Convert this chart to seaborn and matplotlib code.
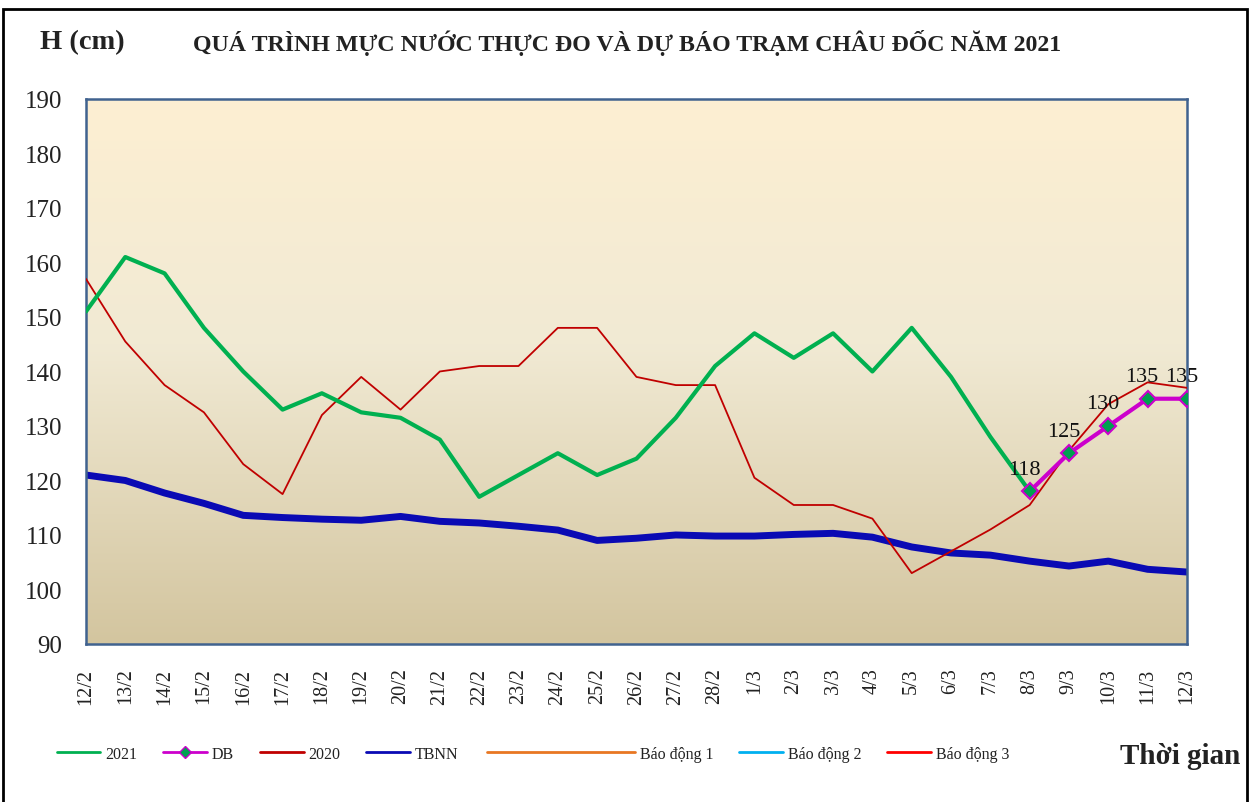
import numpy as np
import pandas as pd
import matplotlib.pyplot as plt
import seaborn as sns
from matplotlib.colors import LinearSegmentedColormap
from matplotlib.lines import Line2D
from matplotlib.patches import Rectangle
from matplotlib.legend_handler import HandlerLine2D

# Dữ liệu
dates = ['12/2', '13/2', '14/2', '15/2', '16/2', '17/2', '18/2', '19/2', '20/2',
         '21/2', '22/2', '23/2', '24/2', '25/2', '26/2', '27/2', '28/2',
         '1/3', '2/3', '3/3', '4/3', '5/3', '6/3', '7/3', '8/3', '9/3',
         '10/3', '11/3', '12/3']

h2021 = [151, 161, 158, 148, 140, 133, 136, 132.5, 131.5, 127.5, 117, 121,
         125, 121, 124, 131.5, 141, 147, 142.5, 147, 140, 148, 139, 128, 118]

h2020 = [157, 145.5, 137.5, 132.5, 123, 117.5, 132, 139, 133, 140, 141, 141,
         148, 148, 139, 137.5, 137.5, 120.5, 115.5, 115.5, 113, 103, 107, 111,
         115.5, 125.5, 134, 138, 137]

tbnn = [121, 120, 117.7, 115.8, 113.6, 113.2, 112.9, 112.7, 113.4, 112.5,
        112.2, 111.6, 110.9, 109, 109.4, 110, 109.8, 109.8, 110.1, 110.3,
        109.6, 107.8, 106.7, 106.3, 105.2, 104.3, 105.2, 103.7, 103.2]

db_dates = ['8/3', '9/3', '10/3', '11/3', '12/3']
db = [118, 125, 130, 135, 135]

pos = {d: i for i, d in enumerate(dates)}
df_2021 = pd.DataFrame({'x': [pos[d] for d in dates[:len(h2021)]], 'y': h2021})
df_2020 = pd.DataFrame({'x': [pos[d] for d in dates], 'y': h2020})
df_tbnn = pd.DataFrame({'x': [pos[d] for d in dates], 'y': tbnn})
df_db = pd.DataFrame({'x': [pos[d] for d in db_dates], 'y': db})


# ký hiệu chú thích có đoạn kẻ dài hơn về bên trái
class LongLineHandler(HandlerLine2D):
    def __init__(self, extra, **kw):
        super().__init__(**kw)
        self.extra = extra

    def create_artists(self, legend, orig_handle, xdescent, ydescent, width, height, fontsize, trans):
        return super().create_artists(legend, orig_handle, xdescent + self.extra, ydescent,
                                      width + self.extra, height, fontsize, trans)


sns.set_theme(style='white')
plt.rcParams['font.family'] = ['Liberation Serif', 'DejaVu Serif']

fig = plt.figure(figsize=(12.53, 8.03), dpi=100)
ax = fig.add_axes([0.0686, 0.1968, 0.8787, 0.6787])

# nền chuyển màu
cmap = LinearSegmentedColormap.from_list('bg', [(0, '#D3C59F'), (0.55, '#F1EAD4'), (1, '#FDEFD2')])
grad = np.linspace(0, 1, 256).reshape(-1, 1)
ax.imshow(grad, cmap=cmap, origin='lower', aspect='auto', extent=[0, 1, 0, 1],
          transform=ax.transAxes, zorder=0)

c2021, cdb, c2020, ctbnn = '#00B050', '#CC00CC', '#C00000', '#0A0AB4'

sns.lineplot(data=df_tbnn, x='x', y='y', ax=ax, color=ctbnn, linewidth=5, zorder=2)
sns.lineplot(data=df_2020, x='x', y='y', ax=ax, color=c2020, linewidth=1.3, zorder=3)
sns.lineplot(data=df_2021, x='x', y='y', ax=ax, color=c2021, linewidth=3, zorder=4)
sns.lineplot(data=df_db, x='x', y='y', ax=ax, color=cdb, linewidth=3, zorder=5,
             marker='D', markersize=8, markerfacecolor='#00A050',
             markeredgecolor=cdb, markeredgewidth=1.5)

for xv, yv in zip(df_db['x'], df_db['y']):
    ax.annotate(f'{yv}', (xv, yv), xytext=(-4, 9), textcoords='offset points',
                ha='center', va='bottom', fontsize=16, color='#111111', zorder=6)

ax.set_xlim(0, len(dates) - 1)
ax.set_ylim(90, 190)
ax.set_yticks(range(90, 191, 10))
ax.set_xticks(range(len(dates)))
ax.set_xticklabels(dates, rotation=90)
ax.tick_params(axis='y', labelsize=18, labelcolor='#222222', length=0, pad=17)
ax.tick_params(axis='x', labelsize=14.5, labelcolor='#222222', length=0, pad=17)
ax.set_xlabel('')
ax.set_ylabel('')
for sp in ax.spines.values():
    sp.set_color('#40628F')
    sp.set_linewidth(1.8)
    sp.set_visible(True)

# tiêu đề
fig.text(40 / 1253, 1 - 43 / 803, 'H (cm)', fontsize=20.5, fontweight='bold',
         ha='left', va='center', color='#222222')
fig.text(193 / 1253, 1 - 43 / 803,
         'QUÁ TRÌNH MỰC NƯỚC THỰC ĐO VÀ DỰ BÁO TRẠM CHÂU ĐỐC NĂM 2021',
         fontsize=17.2, fontweight='bold', ha='left', va='center', color='#222222')
fig.text(1240 / 1253, 1 - 757 / 803, 'Thời gian', fontsize=21, fontweight='bold',
         ha='right', va='center', color='#222222')

# chú thích
h_bd1 = Line2D([], [], color='#E87722', lw=2)
handles = [
    Line2D([], [], color=c2021, lw=2),
    Line2D([], [], color=cdb, lw=2, marker='D', markersize=6,
           markerfacecolor='#00A050', markeredgecolor=cdb),
    Line2D([], [], color=c2020, lw=2),
    Line2D([], [], color=ctbnn, lw=2),
    Line2D([], [], linestyle='none'),
    h_bd1,
    Line2D([], [], color='#00B0F0', lw=2),
    Line2D([], [], color='#FF0000', lw=2),
]
labels = ['2021', 'DB', '2020', 'TBNN', 'xxxx', 'Báo động 1', 'Báo động 2', 'Báo động 3']
leg = fig.legend(handles, labels, loc='center', bbox_to_anchor=(533 / 1253, 1 - 755 / 803),
                 ncol=8, frameon=False, fontsize=11.5, handlelength=2.75, handletextpad=0.3,
                 columnspacing=1.62, labelcolor='#222222',
                 handler_map={h_bd1: LongLineHandler(extra=75)})
leg.get_texts()[4].set_alpha(0)

# khung ngoài
fig.patches.append(Rectangle((3 / 1253, -0.05), 1244 / 1253, 1.05 - 10 / 803,
                             transform=fig.transFigure, fill=False,
                             edgecolor='black', linewidth=2))

fig.savefig('out.png', dpi=100)
